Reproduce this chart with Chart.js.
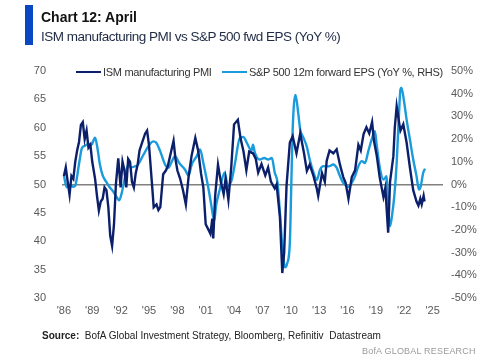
<!DOCTYPE html>
<html>
<head>
<meta charset="utf-8">
<script src="https://cdn.jsdelivr.net/npm/chart.js@4/dist/chart.umd.min.js"></script>
<style>
  body { margin: 0; width: 500px; height: 362px; background: #fff; font-family: "Liberation Sans", Arial, sans-serif; overflow: hidden; }
  #wrap { position: relative; width: 500px; height: 362px; }
  #chart { position: absolute; left: 0; top: 0; }
  .bar { position: absolute; left: 25px; top: 5px; width: 8px; height: 40px; background: #0a47c2; }
  .title { position: absolute; left: 41px; top: 9px; font-size: 14px; font-weight: bold; color: #111; }
  .sub { position: absolute; left: 41px; top: 29px; font-size: 13.5px; color: #1f2a44; letter-spacing: -0.5px; }
  .legend { position: absolute; top: 66px; font-size: 11px; color: #333; letter-spacing: -0.3px; white-space: nowrap; }
  .legend span.sw { display: inline-block; width: 25px; height: 2.5px; vertical-align: middle; margin-right: 2px; position: relative; top: -1px; }
  .source { position: absolute; left: 42px; top: 330px; font-size: 10px; color: #222; }
  .mark { position: absolute; left: 362px; top: 346px; font-size: 9px; color: #9a9a9a; letter-spacing: 0.2px; }
</style>
</head>
<body>
<div id="wrap">
  <canvas id="chart" width="500" height="362"></canvas>
  <div class="bar"></div>
  <div class="title">Chart 12: April</div>
  <div class="sub">ISM manufacturing PMI vs S&amp;P 500 fwd EPS (YoY %)</div>
  <div class="legend" style="left:76px"><span class="sw" style="background:#0b1f6b"></span>ISM manufacturing PMI</div>
  <div class="legend" style="left:222px"><span class="sw" style="background:#1a9bdc"></span>S&amp;P 500 12m forward EPS (YoY %, RHS)</div>
  <div class="source"><b>Source:</b>&nbsp; BofA Global Investment Strategy, Bloomberg, Refinitiv&nbsp; Datastream</div>
  <div class="mark">BofA GLOBAL RESEARCH</div>
</div>
<script>
// ISM manufacturing PMI (left axis)
const ismDates = [1986.0, 1986.2, 1986.4, 1986.6, 1986.8, 1987.0, 1987.2, 1987.4, 1987.6, 1987.8,
  1988.0, 1988.2, 1988.4, 1988.6, 1988.8, 1989.0, 1989.3, 1989.5, 1989.7, 1989.9,
  1990.1, 1990.3, 1990.5, 1990.7, 1990.9, 1991.1, 1991.3, 1991.5, 1991.75, 1992.0,
  1992.2, 1992.4, 1992.6, 1992.8, 1993.0, 1993.2, 1993.4, 1993.6, 1993.8, 1994.0,
  1994.3, 1994.6, 1994.8, 1995.0, 1995.3, 1995.5, 1995.8, 1996.0, 1996.2, 1996.5,
  1996.8, 1997.0, 1997.3, 1997.6, 1997.8, 1998.0, 1998.3, 1998.6, 1998.9, 1999.2,
  1999.5, 1999.9, 2000.2, 2000.5, 2000.75, 2001.0, 2001.3, 2001.5, 2001.7, 2001.8,
  2002.0, 2002.3, 2002.6, 2002.9, 2003.1, 2003.4, 2003.7, 2004.0, 2004.4, 2004.7,
  2005.0, 2005.3, 2005.6, 2006.0, 2006.3, 2006.55, 2006.9, 2007.3, 2007.6, 2007.9,
  2008.3, 2008.5, 2008.85, 2009.1, 2009.3, 2009.55, 2009.9, 2010.2, 2010.6, 2011.0,
  2011.4, 2011.7, 2012.0, 2012.4, 2012.75, 2012.9, 2013.3, 2013.6, 2013.8, 2014.1,
  2014.5, 2014.85, 2015.2, 2015.55, 2015.8, 2016.1, 2016.45, 2016.8, 2017.15, 2017.4,
  2017.7, 2018.0, 2018.3, 2018.6, 2018.8, 2019.1, 2019.4, 2019.8, 2020.0, 2020.3,
  2020.5, 2020.85, 2021.0, 2021.2, 2021.45, 2021.6, 2021.9, 2022.25, 2022.6, 2022.95,
  2023.3, 2023.5, 2023.7, 2023.85, 2024.05, 2024.15];
const ismValues = [51.5, 53, 50.5, 48.2, 51.5, 51, 54, 56, 57.5, 60.5,
  61, 58, 59.5, 56.5, 57, 54, 51, 48, 45.4, 47,
  47.5, 49.5, 49, 46, 41, 39.2, 43, 50, 54.6, 49.5,
  54, 52.5, 49.5, 54.5, 54, 50.5, 49.5, 52, 53.5, 56,
  57.5, 59, 59.5, 57, 50.5, 46, 46.5, 45.5, 46, 51.8,
  52.5, 53.3, 55.5, 57.7, 54.5, 52.5, 51, 49, 46.5, 51.5,
  55, 58.2, 56, 52, 49.5, 43, 42, 41.3, 44, 40.5,
  48, 53.5, 50.5, 48.3, 51, 47.3, 53, 60.6, 61.4, 58,
  55.8, 52.5, 55.8, 55.5, 54.5, 52.1, 53.6, 51.6, 53, 50.5,
  49.3, 50, 44.3, 34.4, 38, 49.8, 57.4, 58.5, 55.5, 59,
  55.5, 52.4, 53.5, 51.5, 49.3, 48, 52, 50.5, 54.2, 56,
  55.5, 56.2, 53.5, 51.3, 50.3, 47.5, 51.3, 52.5, 57, 56,
  58.9, 60.1, 59, 61, 57.7, 55, 51.3, 47.8, 49.4, 41.5,
  50.5, 55, 60, 63.8, 61, 59.5, 60.6, 57.4, 53, 49,
  47, 46.3, 47.5, 46.5, 48, 47];

// S&P 500 12m forward EPS, YoY % (right axis)
const epsDates = [1986.0, 1986.3, 1986.6, 1987.0, 1987.2, 1987.6, 1987.9, 1988.2, 1988.6, 1988.9,
  1989.3, 1989.55, 1989.8, 1990.1, 1990.5, 1990.8, 1991.2, 1991.6, 1991.85, 1992.1,
  1992.45, 1992.8, 1993.1, 1993.5, 1993.85, 1994.4, 1995.1, 1995.45, 1995.75, 1996.2,
  1996.7, 1997.05, 1997.4, 1997.75, 1998.2, 1998.8, 1999.2, 1999.5, 2000.05, 2000.4,
  2000.75, 2001.3, 2001.6, 2001.9, 2002.1, 2002.5, 2003.0, 2003.35, 2003.75, 2004.1,
  2004.6, 2005.0, 2005.3, 2005.85, 2006.0, 2006.2, 2006.7, 2007.2, 2007.6, 2008.0,
  2008.3, 2008.6, 2008.85, 2009.1, 2009.4, 2009.6, 2009.9, 2010.05, 2010.2, 2010.5,
  2010.8, 2011.0, 2011.3, 2011.7, 2012.0, 2012.4, 2012.75, 2013.1, 2013.45, 2014.0,
  2014.5, 2014.85, 2015.2, 2015.55, 2015.9, 2016.1, 2016.45, 2016.8, 2017.15, 2017.5,
  2017.85, 2018.2, 2018.55, 2018.9, 2019.1, 2019.45, 2019.8, 2020.15, 2020.3, 2020.5,
  2020.7, 2020.95, 2021.2, 2021.45, 2021.6, 2021.7, 2022.0, 2022.25, 2022.6, 2022.95,
  2023.3, 2023.55, 2023.75, 2024.0, 2024.2];
const epsValues = [4, -1.2, -0.5, -1, -0.5, 9, 16, 17, 18, 17.5,
  20.6, 16, 9, 4, 1, -1, -3, -5.7, -7, -4,
  2.8, 8.6, 7.5, 8, 8.8, 13, 17.8, 19, 18.5, 14.5,
  8.8, 7.4, 10, 12.5, 9.5, 6.6, 4, 8.6, 12.5, 15.4,
  9.5, -2, -9.3, -16, -9.3, -2, 5.3, -0.7, 2, 9.4,
  20.4, 21, 18.8, 15, 17.5, 14, 11, 11.7, 11, 11.7,
  5.3, 0.7, -12.5, -27, -36.5, -35, -25.6, -0.7, 24.4, 39.5,
  31, 24, 21, 16.6, 11, 5.3, 2, 6.6, 8.1, 8,
  8.8, 7.4, 3.7, 0.7, -0.7, -1, 0.7, 3.7, 8.1, 10.3,
  9.5, 14.7, 19.8, 23.5, 16.9, 6.6, 2.2, 3.7, -9.5, -18.3,
  -13.9, -5, 9.5, 31.6, 41.9, 42.6, 36, 28.6, 19.8, 11,
  3.7, -2.2, -0.7, 5.1, 7];

const yearTicks = [1986, 1989, 1992, 1995, 1998, 2001, 2004, 2007, 2010, 2013, 2016, 2019, 2022, 2025];

const tickFont = { family: '"Liberation Sans", Arial, sans-serif', size: 11 };
const tickColor = '#595959';

new Chart(document.getElementById('chart'), {
  type: 'line',
  data: {
    datasets: [{
      label: 'ISM manufacturing PMI',
      data: ismDates.map((d, i) => ({ x: d, y: ismValues[i] })),
      borderColor: '#0b1f6b',
      borderWidth: 2.4,
      pointRadius: 0,
      tension: 0,
      yAxisID: 'y'
    }, {
      label: 'S&P 500 12m forward EPS (YoY %, RHS)',
      data: epsDates.map((d, i) => ({ x: d, y: epsValues[i] })),
      borderColor: '#1a9bdc',
      borderWidth: 2.4,
      pointRadius: 0,
      cubicInterpolationMode: 'monotone',
      yAxisID: 'y1'
    }]
  },
  options: {
    responsive: false,
    animation: false,
    layout: { padding: { top: 71, bottom: 42, left: 0, right: 0 } },
    plugins: { legend: { display: false }, tooltip: { enabled: false } },
    scales: {
      x: {
        type: 'linear',
        min: 1985.8,
        max: 2026.1,
        afterBuildTicks: s => { s.ticks = yearTicks.map(v => ({ value: v })); },
        afterFit: s => { s.height = 22; },
        ticks: { callback: v => "'" + String(v).slice(2), font: tickFont, color: tickColor, padding: 6, maxRotation: 0 },
        grid: { display: false, drawTicks: false },
        border: { display: false }
      },
      y: {
        position: 'left',
        min: 30, max: 70,
        afterFit: s => { s.width = 62; },
        ticks: { stepSize: 5, font: tickFont, color: tickColor, padding: 8 },
        grid: { display: false },
        border: { display: false }
      },
      y1: {
        position: 'right',
        min: -50, max: 50,
        afterFit: s => { s.width = 57; },
        ticks: { stepSize: 10, callback: v => v + '%', font: tickFont, color: tickColor, padding: 8 },
        grid: {
          drawTicks: false,
          color: c => c.tick && c.tick.value === 0 ? '#808080' : 'transparent',
          lineWidth: 1.5
        },
        border: { display: false }
      }
    }
  }
});
</script>
</body>
</html>
